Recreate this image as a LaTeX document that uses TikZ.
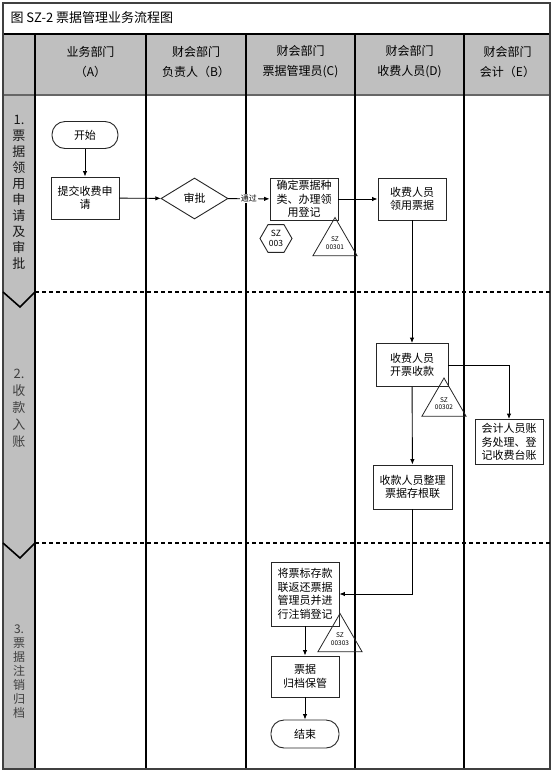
\documentclass[tikz,border=0pt]{standalone}
\usepackage{fontspec}
\setmainfont{Noto Sans CJK SC}
\usepackage{tikz}
\usetikzlibrary{arrows.meta, positioning, shapes.geometric}

\tikzset{
  lanebox/.style={draw=black!85, line width=0.9pt, fill=white, minimum width=68pt, minimum height=42pt,
    inner sep=1pt, align=center, font=\fontsize{11}{13.5}\selectfont},
  terminal/.style={lanebox, rounded corners=13pt, minimum height=27pt},
  decision/.style={diamond, draw=black!85, line width=0.9pt, fill=white, minimum width=67pt, minimum height=41pt,
    inner sep=0pt, font=\fontsize{11}{13.5}\selectfont},
  docmark/.style={regular polygon, regular polygon sides=3, draw=black!85, line width=0.8pt, minimum size=46pt,
    inner sep=0pt, align=center, font=\fontsize{6.5}{7.5}\selectfont},
  formmark/.style={regular polygon, regular polygon sides=6, draw=black!85, line width=0.9pt, minimum size=32pt,
    inner sep=0pt, align=center, font=\fontsize{8.5}{10}\selectfont},
  flow/.style={line width=0.9pt, -{Latex[length=5.5pt, width=4.5pt]}},
  lanehead/.style={align=center, font=\fontsize{12}{20}\selectfont},
  phase/.style={align=center, font=\fontsize{13}{16}\selectfont},
}

\begin{document}
\begin{tikzpicture}[x=1pt, y=-1pt]
  \useasboundingbox (0,0) rectangle (554,772);
  % frame, header and lane band
  \fill[gray!50] (3,34) rectangle (550,95);
  \fill[gray!50] (3,95) rectangle (35,769);
  \draw[line width=1.2pt, black!60] (3,95) -- (550,95);
  \foreach \xx in {35,146,246,355,464}
    \draw[line width=1.4pt] (\xx,34) -- (\xx,769);
  \draw[line width=1.2pt] (3,34) -- (550,34);
  \draw[line width=1.8pt, black!75] (3,3) rectangle (550,769);
  \foreach \yy in {292,543} {
    \draw[line width=2pt, dash pattern=on 4pt off 3pt] (35,\yy) -- (550,\yy);
    \draw[line width=1.6pt] (3,\yy) -- (20,\yy+15) -- (35,\yy);
  }

  \node[anchor=west, font=\fontsize{13}{15}\selectfont] (title) at (7,18) {图 SZ-2 票据管理业务流程图};
  \node[lanehead] (headA) at (90.5,62) {业务部门\\（A）};
  \node[lanehead] (headB) at (196,62) {财会部门\\负责人（B）};
  \node[lanehead] (headC) at (300.5,62) {财会部门\\票据管理员(C)};
  \node[lanehead] (headD) at (409.5,62) {财会部门\\收费人员(D)};
  \node[lanehead] (headE) at (507.5,62) {财会部门\\会计（E）};

  \node[phase, black!90] (phase1) at (19,192.5) {1.\\票\\据\\领\\用\\申\\请\\及\\审\\批};
  \node[phase, black!75, font=\fontsize{13}{17}\selectfont] (phase2) at (19,408.5) {2.\\收\\款\\入\\账};
  \node[phase, black!75, font=\fontsize{12}{14}\selectfont] (phase3) at (19,671.5) {3.\\票\\据\\注\\销\\归\\档};

  % phase 1
  \node[terminal, minimum width=66pt] (start) at (85,135) {开始};
  \node[lanebox] (apply) at (85,198) {提交收费申\\请};
  \node[decision] (approve) at (194.5,198.5) {审批};
  \node[lanebox] (register) at (304,199) {确定票据种\\类、办理领\\用登记};
  \node[formmark] (form003) at (276,238.5) {SZ\\003};
  \node[docmark] (doc301) at (335,243) {SZ\\00301};
  \node[lanebox] (receive) at (412,199) {收费人员\\领用票据};

  % phase 2
  \node[lanebox, minimum width=72pt, minimum height=43pt] (issue) at (412,365) {收费人员\\开票收款};
  \node[docmark] (doc302) at (444,403.5) {SZ\\00302};
  \node[lanebox, minimum height=45pt] (account) at (509,442) {会计人员账\\务处理、登\\记收费台账};
  \node[lanebox, minimum width=79pt, minimum height=44pt] (stub) at (412.5,487) {收款人员整理\\票据存根联};

  % phase 3
  \node[lanebox, minimum height=64pt] (cancel) at (305,594) {将票标存款\\联返还票据\\管理员并进\\行注销登记};
  \node[docmark] (doc303) at (340,639) {SZ\\00303};
  \node[lanebox, minimum height=41pt] (archive) at (305,676.5) {票据\\归档保管};
  \node[terminal, minimum height=28pt] (finish) at (305,734) {结束};

  \draw[flow] (start) -- (apply);
  \draw[flow] (apply) -- (approve);
  \draw[flow] (approve) -- node[fill=white, inner sep=1pt, font=\fontsize{8}{9}\selectfont] (pass) {通过} (register);
  \draw[flow] (register) -- (receive);
  \draw[flow] (receive) -- (issue);
  \draw[flow] (issue.east) -| (account.north);
  \draw[flow] (issue) -- (stub);
  \draw[flow] (stub.south) |- (cancel.east);
  \draw[flow] (cancel) -- (archive);
  \draw[flow] (archive) -- (finish);
\end{tikzpicture}
\end{document}
